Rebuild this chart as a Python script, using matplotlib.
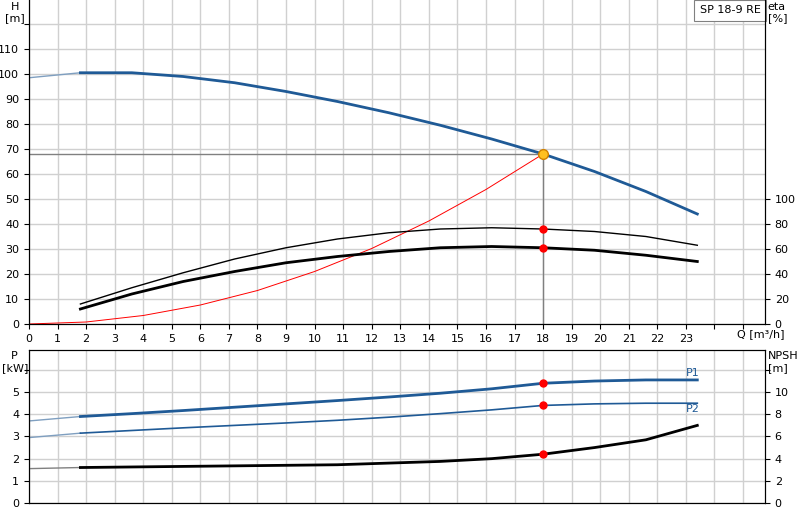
import matplotlib
matplotlib.use("Agg")
import matplotlib.pyplot as plt
import numpy as np

Q_ext = [0, 1.8]
H_ext = [98.5, 100.5]
Q = [1.8, 3.6, 5.4, 7.2, 9, 10.8, 12.6, 14.4, 16.2, 18, 19.8, 21.6, 23.4]
H = [100.5, 100.5, 99, 96.5, 93, 89, 84.5, 79.5, 74, 68, 61, 53, 44]
eta_pump = [16, 29, 41, 52, 61, 68, 73, 76, 77, 76, 74, 70, 63]
eta_tot = [12, 24, 34, 42, 49, 54, 58, 61, 62, 61, 59, 55, 50]
Q_sys = [0, 2, 4, 6, 8, 10, 12, 14, 16, 18]
H_sys = [0, 0.8, 3.4, 7.6, 13.4, 21, 30.2, 41.2, 53.8, 68]
P1_ext = [3.7, 3.9]
P1 = [3.9, 4.03, 4.17, 4.32, 4.47, 4.62, 4.78, 4.95, 5.15, 5.4, 5.5, 5.55, 5.55]
P2_ext = [2.95, 3.15]
P2 = [3.15, 3.27, 3.39, 3.5, 3.61, 3.73, 3.87, 4.03, 4.2, 4.4, 4.47, 4.5, 4.5]
NPSH_ext = [3.1, 3.2]
NPSH = [3.2, 3.25, 3.3, 3.35, 3.4, 3.45, 3.6, 3.75, 4.0, 4.4, 5.0, 5.7, 7.0]
Q_op, H_op, eta_op, etat_op, P1_op, P2_op, NPSH_op = 18, 68, 76, 61, 5.4, 4.4, 4.4
xticks = list(range(0, 24))

blue = "#1f5a96"
fig = plt.figure(figsize=(8, 5.2), dpi=100)
xmax = 736 / 28.56
ax = fig.add_axes([29/800, 196/520, 736/800, 324/520])
ax.set_xlim(0, xmax); ax.set_ylim(0, 129.6)
ax2 = ax.twinx(); ax2.set_ylim(0, 259.2)
ax.set_xticks(np.arange(0, 26, 1)); ax.set_yticks(np.arange(0, 130, 10))
ax.grid(True, color="#d0d0d0", lw=1)
ax.set_xticklabels([str(t) if t in xticks else "" for t in range(26)], fontsize=8)
ax.set_yticklabels([str(t) if t <= 110 else "" for t in range(0, 130, 10)], fontsize=8)
ax2.set_yticks(range(0, 120, 20)); ax2.tick_params(labelsize=8)
ax.spines["top"].set_visible(False); ax2.spines["top"].set_visible(False)
ax.plot(Q_ext, H_ext, color="#7f9fc0", lw=1)
ax.plot(Q, H, color=blue, lw=2)
ax2.plot(Q, eta_pump, color="black", lw=1)
ax2.plot(Q, eta_tot, color="black", lw=2)
ax.plot(Q_sys, H_sys, color="red", lw=0.7)
ax.plot([0, Q_op], [H_op, H_op], color="gray", lw=1)
ax.plot([Q_op, Q_op], [0, H_op], color="gray", lw=1)
ax.plot(Q_op, H_op, "o", ms=7, mfc="#ffc020", mec="#d08000")
ax2.plot([Q_op]*2, [eta_op, etat_op], "o", ms=5, color="red")
ax.text(-0.5, 129, "H\n[m]", fontsize=8, ha="center", va="top")
ax.text(xmax + 0.1, 129, "eta\n[%]", fontsize=8, ha="left", va="top")
ax.text(24.8, -4, "Q [m³/h]", fontsize=8, ha="left", va="center")
ax.text(xmax - 0.15, 127.5, "SP 18-9 RE", fontsize=8, ha="right", va="top",
        bbox=dict(fc="white", ec="gray", lw=0.8))

bx = fig.add_axes([29/800, 17/520, 736/800, 153/520])
bx.set_xlim(0, xmax); bx.set_ylim(0, 6.9)
bx2 = bx.twinx(); bx2.set_ylim(0, 13.8)
bx.set_xticks(np.arange(0, 26, 1)); bx.set_xticklabels([]); bx.tick_params(axis="x", length=0)
bx.set_yticks(range(0, 7)); bx.set_yticklabels([str(i) if i <= 5 else "" for i in range(7)], fontsize=8)
bx.grid(True, color="#d0d0d0", lw=1)
bx2.set_yticks(range(0, 14, 2)); bx2.set_yticklabels([str(i) if i <= 10 else "" for i in range(0, 14, 2)], fontsize=8)
bx.plot(Q_ext, P1_ext, color="#7f9fc0", lw=1); bx.plot(Q, P1, color=blue, lw=2)
bx.plot(Q_ext, P2_ext, color="#7f9fc0", lw=1); bx.plot(Q, P2, color=blue, lw=1.2)
bx2.plot(Q_ext, NPSH_ext, color="gray", lw=1); bx2.plot(Q, NPSH, color="black", lw=2)
bx.plot([Q_op]*2, [P1_op, P2_op], "o", ms=5, color="red")
bx2.plot(Q_op, NPSH_op, "o", ms=5, color="red")
bx.text(23.0, 5.75, "P1", color=blue, fontsize=8)
bx.text(23.0, 4.1, "P2", color=blue, fontsize=8)
bx.text(-0.5, 6.85, "P\n[kW]", fontsize=8, ha="center", va="top")
bx.text(xmax + 0.1, 6.85, "NPSH\n[m]", fontsize=8, ha="left", va="top")
fig.savefig("out.png", dpi=100)
